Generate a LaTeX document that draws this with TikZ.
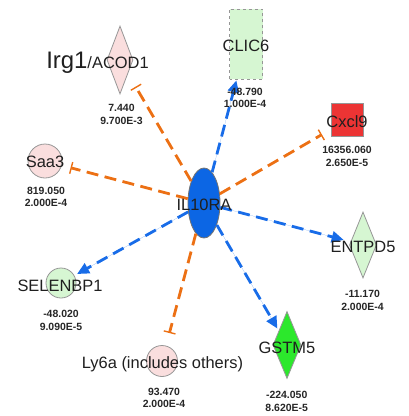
\documentclass[tikz,border=0pt]{standalone}
\usepackage{fontspec}
\setmainfont{Liberation Sans}
\usetikzlibrary{shapes.geometric,arrows.meta}
\definecolor{inhib}{RGB}{236,112,20}
\definecolor{activ}{RGB}{24,108,232}
\definecolor{hub}{RGB}{12,102,228}
\definecolor{uppink}{RGB}{250,222,222}
\definecolor{downpale}{RGB}{214,246,210}
\definecolor{downbright}{RGB}{44,232,44}
\definecolor{upred}{RGB}{236,52,52}
\definecolor{rim}{RGB}{150,150,150}
\begin{document}
\begin{tikzpicture}[x=1bp,y=-1bp,
  mol/.style={draw=rim, line width=0.8bp, inner sep=0pt},
  gene/.style={font=\fontsize{16.5}{19}\selectfont, text=black!88, inner sep=0pt, anchor=base},
  val/.style={font=\bfseries\fontsize{10.5}{13}\selectfont, text=black!85, inner sep=0pt, anchor=north, align=center},
  inhibits/.style={draw=inhib, line width=2.8bp, dash pattern=on 12bp off 6.5bp,
    -{Bar[width=12bp,line width=1.4bp]}},
  activates/.style={draw=activ, fill=activ, line width=2.8bp, dash pattern=on 12bp off 6.5bp,
    -{Triangle[length=12bp,width=11bp]}}]
\useasboundingbox (0,0) rectangle (409,416);

% molecule shapes
\node[mol, ellipse, fill=hub, draw=black!55, minimum width=32bp, minimum height=70bp] (il) at (204,203) {};
\node[mol, diamond, fill=uppink, minimum width=26bp, minimum height=68bp] (irg) at (120,60) {};
\node[mol, rectangle, fill=downpale, dashed, minimum width=33bp, minimum height=70bp] (clic) at (246,44) {};
\node[mol, rectangle, fill=upred, minimum width=32bp, minimum height=33bp] (cxcl) at (347,120) {};
\node[mol, circle, fill=uppink, minimum size=34bp] (saa) at (45,161) {};
\node[mol, diamond, fill=downpale, minimum width=27bp, minimum height=66bp] (entpd) at (363,245) {};
\node[mol, circle, fill=downpale, minimum size=30bp] (selen) at (61,283) {};
\node[mol, circle, fill=uppink, minimum size=31bp] (ly) at (162,361) {};
\node[mol, diamond, fill=downbright, minimum width=28bp, minimum height=67bp] (gstm) at (287,345) {};

% relations from IL10RA
\draw[inhibits, shorten >=15bp] (il) -- (irg);
\draw[activates, shorten >=1bp] (il) -- (clic);
\draw[inhibits, shorten >=10bp] (il) -- (cxcl);
\draw[inhibits, shorten >=9bp] (il) -- (saa);
\draw[activates, shorten >=7bp] (il) -- (entpd);
\draw[activates, shorten >=3bp] (il) -- (selen);
\draw[inhibits, shorten >=13bp] (il) -- (ly);
\draw[activates, shorten >=2.5bp] (il) -- (gstm);

% gene names
\node[gene] (ilname) at (204,210.5) {IL10RA};
\node[gene] (irgname) at (97.5,68) {{\fontsize{24}{28}\selectfont Irg1}/ACOD1};
\node[gene] (clicname) at (246,51) {CLIC6};
\node[gene] (cxclname) at (347,127) {Cxcl9};
\node[gene] (saaname) at (45,167) {Saa3};
\node[gene] (entpdname) at (363,252) {ENTPD5};
\node[gene] (selenname) at (60,291) {SELENBP1};
\node[gene] (lyname) at (162.5,368) {Ly6a (includes others)};
\node[gene] (gstmname) at (287,353) {GSTM5};

% fold change and p-value
\node[val] (irgval) at (121.5,104) {7.440\\9.700E-3};
\node[val] (clicval) at (245,87.5) {-48.790\\1.000E-4};
\node[val] (cxclval) at (347,146) {16356.060\\2.650E-5};
\node[val] (saaval) at (46,186.5) {819.050\\2.000E-4};
\node[val] (entpdval) at (362.5,290) {-11.170\\2.000E-4};
\node[val] (selenval) at (61,310) {-48.020\\9.090E-5};
\node[val] (lyval) at (164,387.5) {93.470\\2.000E-4};
\node[val] (gstmval) at (286.7,391) {-224.050\\8.620E-5};
\end{tikzpicture}
\end{document}
